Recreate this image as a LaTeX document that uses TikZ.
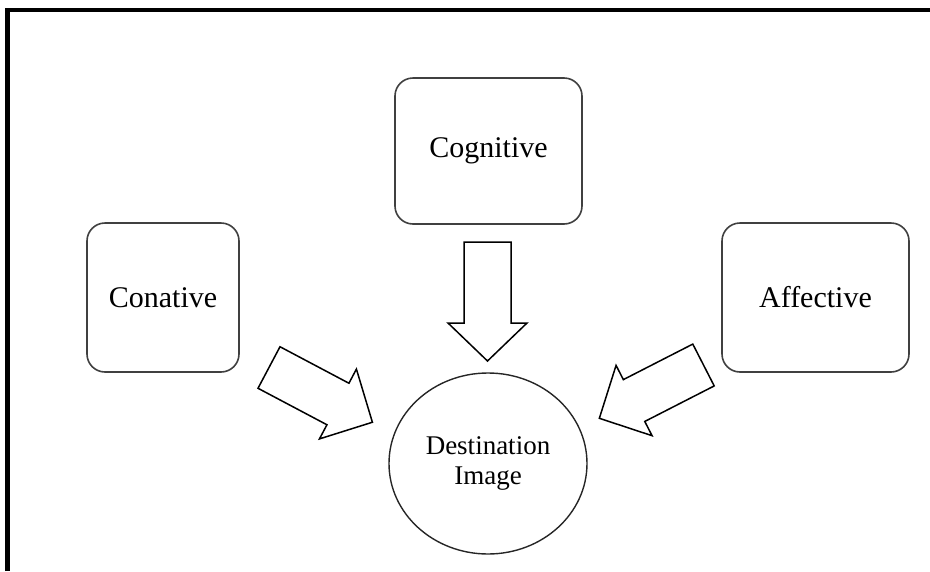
\documentclass[tikz,border=0pt]{standalone}
\usepackage{fontspec}
\setmainfont{Liberation Serif}
\usetikzlibrary{shapes.geometric}
\begin{document}
\begin{tikzpicture}[x=1pt,y=-1pt,
  box/.style={draw=black!75, line width=1.6pt, rounded corners=18pt,
    font=\fontsize{30}{35}\selectfont, inner sep=0pt},
  dest/.style={draw=black!85, line width=1.4pt, ellipse, inner sep=0pt,
    font=\fontsize{27}{30}\selectfont, align=center},
  barrow/.style={draw=black, line width=1.5pt, fill=white, line join=miter},
  frame/.style={line width=4.5pt}]
\useasboundingbox (0,0) rectangle (930,571);
\draw[frame] (7.5,571) -- (7.5,10) -- (930,10);

\node[box, minimum width=187pt, minimum height=146pt] (cog) at (488.5,151) {Cognitive};
\node[box, minimum width=152pt, minimum height=149pt] (con) at (163,297.5) {Conative};
\node[box, minimum width=187pt, minimum height=149pt] (aff) at (815.5,297.5) {Affective};
\node[dest, minimum width=198pt, minimum height=181pt] (img) at (488,463.5) {Destination\\Image};

% block arrows
\begin{scope}[shift={(487.5,242)}, rotate=-90]
  \draw[barrow] (0,-23.5) -- (81,-23.5) -- (81,-39.5) -- (119,0) -- (81,39.5) -- (81,23.5) -- (0,23.5) -- cycle;
\end{scope}
\begin{scope}[shift={(269,367.5)}, rotate=-27.9]
  \draw[barrow] (0,-23.5) -- (78,-23.5) -- (78,-39.5) -- (117,0) -- (78,39.5) -- (78,23.5) -- (0,23.5) -- cycle;
\end{scope}
\begin{scope}[shift={(703.5,365)}, rotate=-152.9]
  \draw[barrow] (0,-23.5) -- (78,-23.5) -- (78,-39.5) -- (117,0) -- (78,39.5) -- (78,23.5) -- (0,23.5) -- cycle;
\end{scope}
\end{tikzpicture}
\end{document}
